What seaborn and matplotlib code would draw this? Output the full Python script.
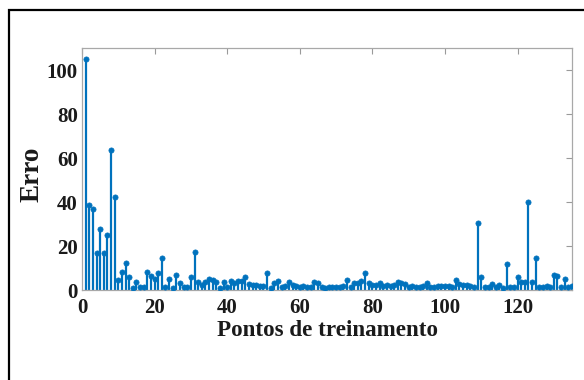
import matplotlib
matplotlib.use("Agg")
import matplotlib.pyplot as plt
from matplotlib.patches import Rectangle
import numpy as np
import pandas as pd
import seaborn as sns

# Training error per training point
pontos = list(range(1, 136))
erro = [
    105, 38.6, 36.8, 16.7, 27.7, 16.7, 25, 63.6, 42.4, 4.5,
    8.3, 12.4, 5.8, 0.8, 3.8, 1.5, 1.5, 8, 6.4, 4.8,
    7.6, 14.4, 1.2, 5, 0.8, 6.8, 3, 1.5, 1.2, 6,
    17.4, 3.8, 2.3, 3.8, 4.8, 4.5, 3.8, 0.8, 3.5, 1.5,
    4.2, 3.3, 4, 4.2, 6, 2.7, 2.3, 2.3, 2, 1.8,
    7.9, 0.8, 3.3, 4, 1.5, 1.8, 3.5, 2.3, 2, 1.5,
    1.8, 1.5, 1.5, 3.8, 3, 1.5, 1, 1.5, 1.5, 1.5,
    1.5, 1.8, 4.5, 1.5, 3, 3.3, 4.2, 7.9, 3, 2.3,
    2.3, 3.3, 1.8, 2.3, 2, 2.5, 3.6, 3, 2.7, 1.5,
    1.8, 1.5, 1.5, 2, 3, 1.2, 1.5, 2, 1.8, 2,
    1.8, 1.5, 4.5, 2.7, 2.3, 2.3, 1.8, 1.2, 30.3, 6,
    1.2, 1.5, 2.7, 1.5, 2.3, 0.8, 12, 1.5, 1.5, 5.8,
    3.8, 3.8, 40.2, 3.8, 14.4, 1.5, 1.2, 1.8, 1.5, 6.8,
    6.4, 1.2, 4.8, 1.5, 1.8,
]
x_ticks = [0, 20, 40, 60, 80, 100, 120]
y_ticks = [0, 20, 40, 60, 80, 100]

df = pd.DataFrame({"ponto": pontos, "erro": erro})

sns.set_theme(style="white")
plt.rcParams["font.family"] = ["Liberation Serif", "DejaVu Serif"]
plt.rcParams["font.weight"] = "bold"

blue = "#0072BD"
ink = "#1a1a1a"
fig = plt.figure(figsize=(5.84, 3.80), dpi=100)
ax = fig.add_axes([82 / 584, 1 - 290 / 380, (572 - 82) / 584, (290 - 48) / 380])

ax.vlines(df["ponto"], 0, df["erro"], color=blue, linewidth=1.6, zorder=2)
sns.scatterplot(data=df, x="ponto", y="erro", ax=ax, color=blue, s=14,
                edgecolor=blue, linewidth=0.5, zorder=3, legend=False)

ax.set_xlim(0, 135)
ax.set_ylim(0, 110)
ax.set_xticks(x_ticks)
ax.set_yticks(y_ticks)
ax.tick_params(axis="both", which="both", direction="in", length=4, width=0.8,
               color="#9a9a9a", top=True, right=True, labelsize=15,
               labelcolor=ink)
ax.tick_params(axis="x", pad=6)
ax.tick_params(axis="y", pad=3)
for lab in ax.get_xticklabels() + ax.get_yticklabels():
    lab.set_fontweight("bold")
for sp in ax.spines.values():
    sp.set_visible(True)
    sp.set_color("#a8a8a8")
    sp.set_linewidth(0.9)

ax.set_xlabel("Pontos de treinamento", fontsize=16.6, fontweight="bold", color=ink)
ax.xaxis.label.set_va("center")
ax.xaxis.set_label_coords(0.501, -0.169)

ax.set_ylabel("Erro", fontsize=19.5, fontweight="bold", color=ink)
ax.yaxis.label.set_va("center")
ax.yaxis.set_label_coords(-0.103, 0.479)

# Outer frame of the figure panel
fig.patches.append(Rectangle((9 / 584, -0.1), 1.2, 1 - 10 / 380 + 0.1,
                             transform=fig.transFigure, fill=False,
                             edgecolor="black", linewidth=1.6))

fig.savefig("out.png", dpi=100)
